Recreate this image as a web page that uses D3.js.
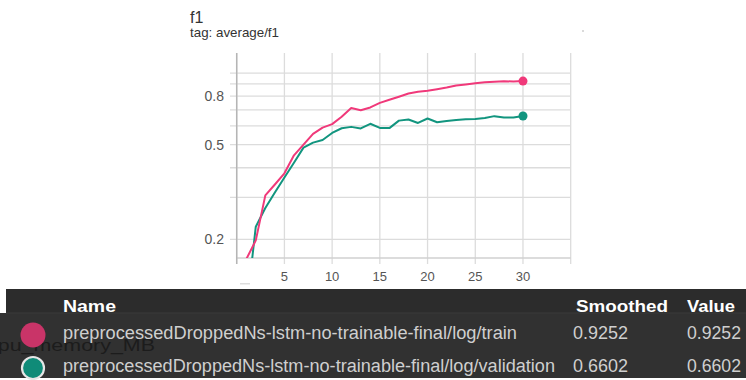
<!DOCTYPE html>
<html>
<head>
<meta charset="utf-8">
<script src="https://cdn.jsdelivr.net/npm/d3@7"></script>
<style>
  body { margin: 0; background: #fff; }
  text { font-family: "Liberation Sans", Arial, sans-serif; }
</style>
</head>
<body>
<div id="chart"></div>
<script>
const steps = d3.range(1, 31);
const trainF1 = [0.165, 0.198, 0.306, 0.34, 0.379, 0.451, 0.5, 0.555, 0.59, 0.61,
  0.655, 0.713, 0.698, 0.717, 0.749, 0.772, 0.795, 0.82, 0.835, 0.842,
  0.855, 0.869, 0.886, 0.895, 0.905, 0.914, 0.919, 0.923, 0.922, 0.9252];
const validF1 = [0.1, 0.226, 0.271, 0.315, 0.364, 0.42, 0.486, 0.51, 0.523, 0.56,
  0.586, 0.594, 0.585, 0.612, 0.588, 0.587, 0.631, 0.638, 0.617, 0.644,
  0.621, 0.629, 0.635, 0.639, 0.641, 0.647, 0.659, 0.65, 0.651, 0.6602];
const yGrid = [0.2, 0.3, 0.4, 0.5, 0.6, 0.7, 0.8, 0.9, 1.0];
const yLabels = [0.2, 0.5, 0.8];
const xGrid = [0, 5, 10, 15, 20, 25, 30, 35];
const xLabels = [5, 10, 15, 20, 25, 30];
const runs = ['preprocessedDroppedNs-lstm-no-trainable-final/log/train',
  'preprocessedDroppedNs-lstm-no-trainable-final/log/validation'];
const smoothed = ['0.9252', '0.6602'];
const values = ['0.9252', '0.6602'];

const colors = { TRAIN: '#f0397a', VALID: '#12957f', TRAIN_DOT: '#c93468', VALID_DOT: '#0f8b78' };

const W = 746, H = 380;
const svg = d3.select('#chart').append('svg')
  .attr('width', W)
  .attr('height', H);

const x = d3.scaleLinear().domain([0, 35]).range([236.7, 570.7]);
const y = d3.scaleLog().domain([0.167, 1.214]).range([258, 53]);
const plotTop = y.range()[1], plotBottom = y.range()[0];

// titles
svg.append('text').attr('x', 190).attr('y', 23)
  .attr('font-size', 16).attr('fill', '#333').text('f1');
svg.append('text').attr('x', 190).attr('y', 37)
  .attr('font-size', 13).attr('fill', '#333')
  .attr('textLength', 89).attr('lengthAdjust', 'spacingAndGlyphs')
  .text('tag: average/f1');
svg.append('circle').attr('cx', 583).attr('cy', 31).attr('r', 0.8).attr('fill', '#aaa');

// grid
const gG = svg.append('g');
yGrid.forEach((v) => {
  gG.append('line')
    .attr('x1', 230).attr('x2', x.range()[1])
    .attr('y1', y(v)).attr('y2', y(v))
    .attr('stroke', '#dcdcdc').attr('stroke-width', 1.3);
});
xGrid.forEach((v) => {
  gG.append('line')
    .attr('x1', x(v)).attr('x2', x(v))
    .attr('y1', plotTop).attr('y2', plotBottom + 6)
    .attr('stroke', '#dcdcdc').attr('stroke-width', 1.3);
});
gG.append('line')
  .attr('x1', x(0)).attr('x2', x.range()[1])
  .attr('y1', plotBottom).attr('y2', plotBottom)
  .attr('stroke', '#d0d0d0').attr('stroke-width', 1.3);
gG.append('line')
  .attr('x1', x(0)).attr('x2', x(0))
  .attr('y1', plotTop).attr('y2', plotBottom + 6)
  .attr('stroke', '#b5b5b5').attr('stroke-width', 1.5);

yLabels.forEach((v) => {
  svg.append('text')
    .attr('x', 224).attr('y', y(v) + 5)
    .attr('text-anchor', 'end')
    .attr('font-size', 14).attr('fill', '#555')
    .text(v);
});
xLabels.forEach((v) => {
  svg.append('text')
    .attr('x', x(v)).attr('y', 281)
    .attr('text-anchor', 'middle')
    .attr('font-size', 13).attr('fill', '#555')
    .text(v);
});
svg.append('rect').attr('x', 240).attr('y', 283).attr('width', 10).attr('height', 1.5).attr('fill', '#ddd');

// lines
svg.append('clipPath').attr('id', 'plot')
  .append('rect')
  .attr('x', x(0)).attr('y', plotTop)
  .attr('width', x.range()[1] - x(0)).attr('height', plotBottom - plotTop);

const line = d3.line()
  .x((d, i) => x(steps[i]))
  .y((d) => y(d));

const gL = svg.append('g').attr('clip-path', 'url(#plot)');
[[validF1, colors.VALID], [trainF1, colors.TRAIN]].forEach(([data, c]) => {
  gL.append('path')
    .attr('d', line(data))
    .attr('fill', 'none')
    .attr('stroke', c)
    .attr('stroke-width', 2)
    .attr('stroke-linejoin', 'round');
  gL.append('circle')
    .attr('cx', x(steps[steps.length - 1]))
    .attr('cy', y(data[data.length - 1]))
    .attr('r', 4.5)
    .attr('fill', c);
});

// table
const gT = svg.append('g');
gT.append('rect').attr('x', 0).attr('y', 313).attr('width', W).attr('height', 65).attr('fill', '#313131');
gT.append('rect').attr('x', 6).attr('y', 289).attr('width', W - 6).attr('height', 24).attr('fill', '#2c2c2c');
gT.append('line').attr('x1', 6).attr('x2', W).attr('y1', 313).attr('y2', 313).attr('stroke', '#3a3a3a');

gT.append('text').attr('x', 63).attr('y', 311.5)
  .attr('font-size', 17).attr('font-weight', 'bold').attr('fill', '#fff')
  .attr('textLength', 53).attr('lengthAdjust', 'spacingAndGlyphs').text('Name');
gT.append('text').attr('x', 576).attr('y', 311.5)
  .attr('font-size', 17).attr('font-weight', 'bold').attr('fill', '#fff')
  .attr('textLength', 92).attr('lengthAdjust', 'spacingAndGlyphs').text('Smoothed');
gT.append('text').attr('x', 687).attr('y', 311.5)
  .attr('font-size', 17).attr('font-weight', 'bold').attr('fill', '#fff')
  .attr('textLength', 48).attr('lengthAdjust', 'spacingAndGlyphs').text('Value');

gT.append('text').attr('x', -13).attr('y', 351)
  .attr('font-size', 17).attr('fill', '#1c1c1c')
  .attr('textLength', 168).attr('lengthAdjust', 'spacingAndGlyphs').text('cpu_memory_MB');

const rowY = [339, 372];
const dotFill = [colors.TRAIN_DOT, colors.VALID_DOT];
const nameW = [454, 492];
runs.forEach((r, i) => {
  gT.append('circle')
    .attr('cx', 33).attr('cy', rowY[i] - 4)
    .attr('r', i === 0 ? 12.5 : 11)
    .attr('fill', dotFill[i])
    .attr('stroke', i === 0 ? 'none' : '#e6e6e6')
    .attr('stroke-width', 2.2);
  gT.append('text').attr('x', 63).attr('y', rowY[i])
    .attr('font-size', 18).attr('fill', '#cfcfcf')
    .attr('textLength', nameW[i]).attr('lengthAdjust', 'spacingAndGlyphs')
    .text(r);
  gT.append('text').attr('x', 573).attr('y', rowY[i])
    .attr('font-size', 18).attr('fill', '#cfcfcf')
    .attr('textLength', 55).attr('lengthAdjust', 'spacingAndGlyphs')
    .text(smoothed[i]);
  gT.append('text').attr('x', 687).attr('y', rowY[i])
    .attr('font-size', 18).attr('fill', '#cfcfcf')
    .attr('textLength', 54).attr('lengthAdjust', 'spacingAndGlyphs')
    .text(values[i]);
});
</script>
</body>
</html>
